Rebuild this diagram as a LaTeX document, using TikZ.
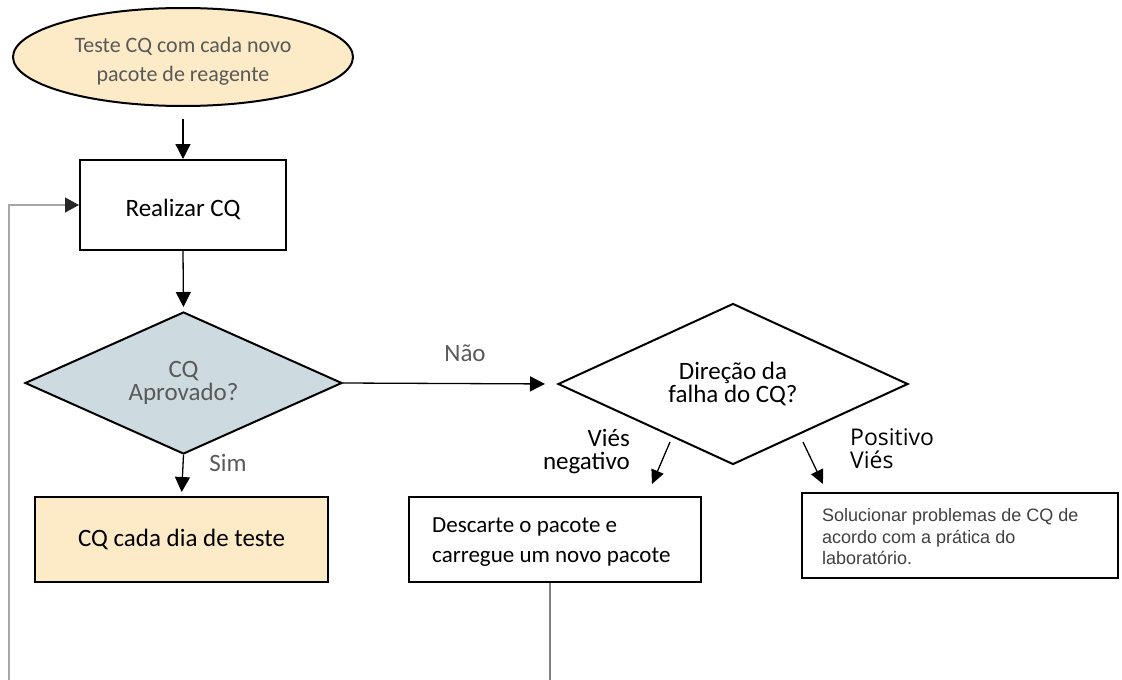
\documentclass[tikz,border=0pt]{standalone}
\usepackage{fontspec}
\setmainfont{Carlito}
\newfontfamily\osans{Open Sans}
\newfontfamily\arialf{Liberation Sans}
\usetikzlibrary{shapes.geometric,arrows.meta}
\definecolor{txtgrey}{HTML}{595959}
\definecolor{cream}{HTML}{FCEBC6}
\definecolor{bluegrey}{HTML}{CDDBE0}
\definecolor{lnkgrey}{HTML}{A6A6A6}
\definecolor{solgrey}{HTML}{404040}
\tikzset{
  box/.style={draw=black, line width=2pt, rectangle, inner sep=0pt},
  decision/.style={draw=black, line width=2pt, diamond, aspect=2.2, inner sep=0pt, align=center},
  flow/.style={draw=black, line width=1.3pt, -{Triangle[length=15pt,width=15pt]}},
  slant/.style={draw=black, line width=1.3pt, -{Triangle[length=14pt,width=13pt]}},
  back/.style={draw=lnkgrey, line width=1.3pt},
  lbl/.style={inner sep=0pt, font=\fontsize{25}{23}\selectfont}
}
\begin{document}
\begin{tikzpicture}[x=1pt,y=-1pt]
\useasboundingbox (0,0) rectangle (1122,680);
% nodes
\node[ellipse, draw=black, line width=2pt, fill=cream, minimum width=340pt, minimum height=98pt, inner sep=0pt] (ell) at (183,57) {};
\node[align=center, inner sep=0pt, text=txtgrey, font=\fontsize{22}{29}\selectfont] (elltxt) at (183,61)
      {Teste CQ com cada novo\\pacote de reagente};
\node[box, minimum width=206pt, minimum height=90pt] (real) at (183,205) {};
\node[inner sep=0pt, font=\fontsize{25}{30}\selectfont] (realtxt) at (183,209) {Realizar CQ};
\node[decision, fill=bluegrey, minimum width=317pt, minimum height=142pt, text=txtgrey,
      font=\fontsize{25}{23}\selectfont] (d1) at (183.5,383) {CQ\\Aprovado?};
\node[decision, minimum width=350pt, minimum height=161pt,
      font=\fontsize{25}{23}\selectfont] (d2) at (733,384) {Direção da\\falha do CQ?};
\node[box, fill=cream, minimum width=293pt, minimum height=85pt, font=\fontsize{25}{30}\selectfont] (daily) at (181.5,539.5) {CQ cada dia de teste};
\node[box, minimum width=292pt, minimum height=85pt] (desc) at (555,539.5) {};
\node[anchor=west, align=left, inner sep=0pt, font=\fontsize{23}{30}\selectfont] (desctxt) at (432,542)
      {Descarte o pacote e\\carregue um novo pacote};
\node[box, minimum width=316pt, minimum height=85pt] (sol) at (960,535.5) {};
\node[anchor=west, align=left, inner sep=0pt, text=solgrey, font=\arialf\fontsize{18}{21.5}\selectfont] (soltxt) at (822,537)
      {Solucionar problemas de CQ de\\acordo com a prática do\\laboratório.};
% labels
\node[lbl, text=txtgrey] (nao) at (465,353) {Não};
\node[lbl, text=txtgrey] (sim) at (228,463) {Sim};
\node[lbl, anchor=east, align=right] (neg) at (630,452) {Viés\\negativo};
\node[lbl, anchor=west, align=left, font=\osans\fontsize{23}{23}\selectfont] (pos) at (850,449) {Positivo\\Viés};
% coordinates for free arrows
\coordinate (n1) at (670,442);
\coordinate (n2) at (652,484);
\coordinate (p1) at (803,442);
\coordinate (p2) at (823,484);
\coordinate (lb) at (9,680);
\coordinate (db) at (550,680);
% connectors
\draw[flow, shorten <=12pt] (ell.south) -- (real.north);
\draw[flow, shorten >=4pt] (real.south) -- (d1.north);
\draw[flow, shorten >=12pt] (d1.east) -- (d2.west);
\draw[flow, shorten >=4pt] (d1.south) -- (daily.north);
\draw[slant] (n1) -- (n2);
\draw[slant] (p1) -- (p2);
\draw[back, -{Triangle[length=14pt,width=15pt,color=black!85]}] (lb) |- (real.west);
\draw[draw=gray, line width=1.2pt] (desc.south -| db) -- (db);
\end{tikzpicture}
\end{document}
